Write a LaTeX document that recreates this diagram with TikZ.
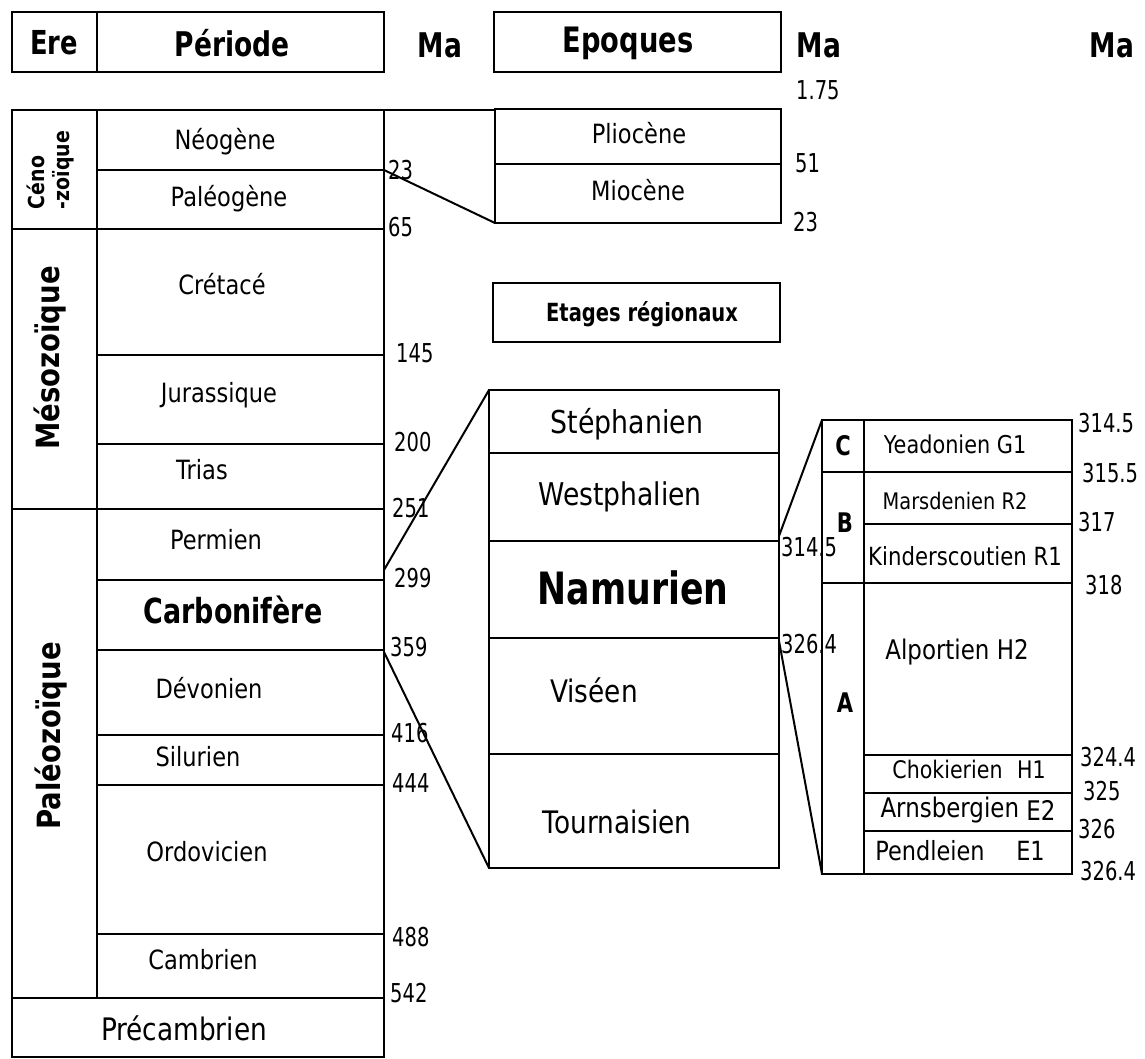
\documentclass[tikz,border=0pt]{standalone}
\usepackage{fontspec}
\setmainfont{DejaVu Sans}
\newfontfamily\rgf{DejaVu Sans}[FakeStretch=0.85]
\newfontfamily\bdf{DejaVu Sans}[FakeStretch=0.78]
\newfontfamily\erf{DejaVu Sans}[FakeStretch=0.86]
\newfontfamily\nmf{DejaVu Sans}[FakeStretch=0.75]
\newcommand\fsz[1]{\fontsize{#1}{#1}\selectfont}
\tikzset{
 tbl/.style={line width=2.4pt, line join=miter},
 conn/.style={line width=2pt},
 per/.style={inner sep=0pt, font=\rgf\fsz{#1}}, per/.default=26.5,
 hd/.style={inner sep=0pt, font=\bdf\bfseries\fsz{#1}},
 era/.style={inner sep=0pt, rotate=90, font=\erf\bfseries\fsz{#1}},
 num/.style={inner sep=0pt, anchor=west, font=\nmf\fsz{26}},
}
\begin{document}
\begin{tikzpicture}[x=1pt,y=-1pt]
\useasboundingbox[fill=white] (0,0) rectangle (1145,1059);

% ---------- headers ----------
\draw[tbl] (12,12) rectangle (97,72);
\draw[tbl] (97,12) rectangle (384,72);
\draw[tbl] (494,12) rectangle (781,72);
\node[hd=33] (hEre) at (54,43) {Ere};
\node[hd=34] (hPer) at (232,43) {Période};
\node[hd=34] (hMa1) at (440,45) {Ma};
\node[hd=35] (hEpo) at (628,43) {Epoques};
\node[hd=34] (hMa2) at (819,45) {Ma};
\node[hd=34] (hMa3) at (1112,45) {Ma};

% ---------- left column ----------
\draw[tbl] (12,110) rectangle (384,1057);
\draw[tbl] (97,110) -- (97,998);
\foreach \yy in {229,509,998} \draw[tbl] (12,\yy) -- (384,\yy);
\foreach \yy in {170,355,444,580,650,735,785,934} \draw[tbl] (97,\yy) -- (384,\yy);

\node[era=22, align=left, font=\erf\bfseries\fontsize{22}{25}\selectfont] (eCeno) at (50,170) {Céno\\-zoïque};
\node[era=32] (eMeso) at (50,358) {Mésozoïque};
\node[era=32] (ePaleo) at (51,736) {Paléozoïque};

\node[per] (pNeo) at (225,142) {Néogène};
\node[per] (pPaleog) at (229,199) {Paléogène};
\node[per] (pCret) at (222,284) {Crétacé};
\node[per] (pJur) at (219,395) {Jurassique};
\node[per] (pTri) at (202,470) {Trias};
\node[per] (pPerm) at (216,540) {Permien};
\node[hd=34.5] (pCarb) at (233,610) {Carbonifère};
\node[per] (pDev) at (209,688) {Dévonien};
\node[per] (pSil) at (198,757) {Silurien};
\node[per] (pOrd) at (207,852) {Ordovicien};
\node[per] (pCamb) at (203,960) {Cambrien};
\node[per=31] (pPrec) at (184,1028) {Précambrien};

\node[num] (m23) at (388,170) {23};
\node[num] (m65) at (388,227) {65};
\node[num] (m145) at (396,353) {145};
\node[num] (m200) at (394,442) {200};
\node[num] (m251) at (392,508) {251};
\node[num] (m299) at (394,578) {299};
\node[num] (m359) at (390,647) {359};
\node[num] (m416) at (391,733) {416};
\node[num] (m444) at (392,783) {444};
\node[num] (m488) at (392,937) {488};
\node[num] (m542) at (390,993) {542};

% ---------- middle column ----------
\draw[tbl] (495,109) rectangle (781,223);
\draw[tbl] (495,164) -- (781,164);
\node[per] (ePlio) at (639,133) {Pliocène};
\node[per] (eMio) at (638,190) {Miocène};
\node[num] (n175) at (796,90) {1.75};
\node[num] (n51) at (795,163) {51};
\node[num] (n23) at (793,222) {23};

\draw[tbl] (493,283) rectangle (780,342);
\node[hd=25] (eEtag) at (642,314) {Etages régionaux};

\draw[tbl] (489,390) rectangle (779,868);
\foreach \yy in {453,541,638,754} \draw[tbl] (489,\yy) -- (779,\yy);
\node[per=31.5] (eSteph) at (627,424) {Stéphanien};
\node[per=31.3] (eWest) at (620,497) {Westphalien};
\node[hd=44.5] (eNam) at (633,588) {Namurien};
\node[per=31] (eVis) at (594,690) {Viséen};
\node[per=31] (eTour) at (617,822) {Tournaisien};
\node[num] (n3145) at (781,547) {314.5};
\node[num] (n3264) at (781,644) {326.4};

% ---------- right column ----------
\draw[tbl] (822,420) rectangle (1072,874);
\draw[tbl] (864,420) -- (864,874);
\draw[tbl] (822,472) -- (1072,472);
\draw[tbl] (864,524) -- (1072,524);
\draw[tbl] (822,583) -- (1072,583);
\draw[tbl] (864,755) -- (1072,755);
\draw[tbl] (864,793) -- (1072,793);
\draw[tbl] (864,831) -- (1072,831);

\node[hd=27] (sC) at (843,446) {C};
\node[hd=27] (sB) at (845,523) {B};
\node[hd=27] (sA) at (845,703) {A};

\node[per=24.5] (rYea) at (955,444) {Yeadonien G1};
\node[per=22.8] (rMar) at (955,501) {Marsdenien R2};
\node[per=25] (rKin) at (965,556) {Kinderscoutien R1};
\node[per=27] (rAlp) at (957,652) {Alportien H2};
\node[per=24.2] (rCho) at (969,769) {Chokierien\hspace{0.6em}H1};
\node[per=27] (rArn) at (968,810) {Arnsbergien \raisebox{-3pt}{E2}};
\node[per=26.4] (rPen) at (960,851) {Pendleien\hspace{1.2em}E1};

\node[num] (r3145) at (1078,423) {314.5};
\node[num] (r3155) at (1082,473) {315.5};
\node[num] (r317) at (1078,522) {317};
\node[num] (r318) at (1085,585) {318};
\node[num] (r3244) at (1080,757) {324.4};
\node[num] (r325) at (1083,791) {325};
\node[num] (r326) at (1078,829) {326};
\node[num] (r3264) at (1080,871) {326.4};

% ---------- connectors ----------
\coordinate (L0) at (384,110);
\coordinate (L23) at (384,170);
\coordinate (Lc1) at (384,570);
\coordinate (Lc2) at (384,652);
\coordinate (P0) at (495,110);
\coordinate (P23) at (495,223);
\coordinate (Ctop) at (489,390);
\coordinate (Cbot) at (489,868);
\coordinate (Nt) at (779,536);
\coordinate (Nb) at (779,641);
\coordinate (Rt) at (822,420);
\coordinate (Rb) at (822,874);

\draw[tbl] (L0) -- (P0);
\draw[conn] (L23) -- (P23);
\draw[conn] (Lc1) -- (Ctop);
\draw[conn] (Lc2) -- (Cbot);
\draw[conn] (Nt) -- (Rt);
\draw[conn] (Nb) -- (Rb);
\end{tikzpicture}
\end{document}
